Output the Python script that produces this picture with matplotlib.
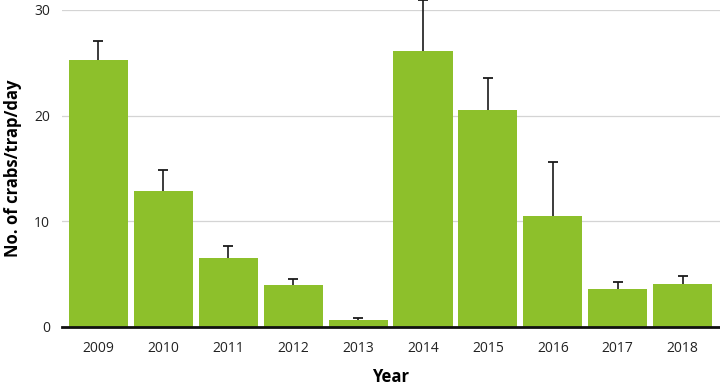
import matplotlib.pyplot as plt
import numpy as np

# data
years = ["2009", "2010", "2011", "2012", "2013", "2014", "2015", "2016", "2017", "2018"]
crabs = [25.3, 12.9, 6.5, 4.0, 0.65, 26.1, 20.5, 10.5, 3.6, 4.1]
err_up = [1.8, 1.95, 1.2, 0.55, 0.2, 4.8, 3.1, 5.1, 0.65, 0.75]

plt.rcParams["font.family"] = ["Open Sans", "DejaVu Sans"]

fig = plt.figure(figsize=(7.2, 3.85), dpi=100)
ax = fig.add_axes([62 / 720, 1 - 327 / 385, 1 - 62 / 720, (327 - 10) / 385])

x = np.arange(len(years))
tops = np.array(crabs) + np.array(err_up)
ax.bar(x, crabs, width=0.91, color="#8DC02B", zorder=2)
# upper-only error bars
ax.vlines(x, crabs, tops, color="#1a1a1a", linewidth=1.2, zorder=3, clip_on=False)
ax.plot(x, tops, linestyle="none", marker="_", markersize=7, markeredgewidth=1.3,
        color="#1a1a1a", zorder=3, clip_on=False)

ax.set_ylim(0, 30)
ax.set_xlim(-0.562, 9.576)
ax.set_yticks([0, 10, 20, 30])
ax.set_xticks(x)
ax.set_xticklabels(years)
for g in [10, 20, 30]:
    ax.axhline(g, color="#d4d4d4", linewidth=0.9, zorder=1)

for s in ["top", "right", "left"]:
    ax.spines[s].set_visible(False)
ax.spines["bottom"].set_linewidth(2)
ax.spines["bottom"].set_color("#111111")
ax.spines["bottom"].set_zorder(4)
ax.tick_params(axis="both", length=0, labelsize=10, colors="#222222")
ax.tick_params(axis="y", pad=8.5)
ax.tick_params(axis="x", pad=10)

ax.set_xlabel("Year", fontsize=12, fontweight="bold", labelpad=9)
ax.set_ylabel("No. of crabs/trap/day", fontsize=12, fontweight="bold", labelpad=9)

fig.savefig("out.png", dpi=100)
